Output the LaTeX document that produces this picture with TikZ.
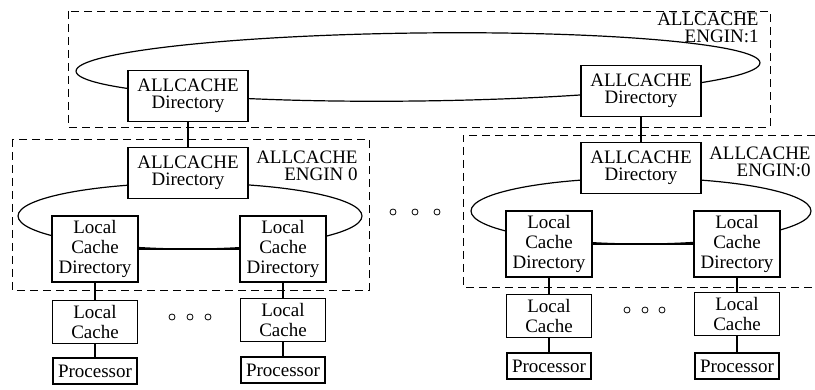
\documentclass[tikz,border=0pt]{standalone}
\usepackage{fontspec}
\setmainfont{Liberation Serif}
\usepackage{tikz}
\usetikzlibrary{positioning}
\tikzset{>=latex}
\tikzset{x=0.5pt, y=-0.5pt}
\tikzset{box/.style={draw, fill=white, inner sep=0pt, align=center,
    line width=0.6pt, font=\fontsize{9.5}{8.6}\selectfont},
  dirbox/.style={box, minimum width=60pt, minimum height=25.5pt},
  lcdbox/.style={box, minimum width=43pt, minimum height=33pt,
    font=\fontsize{9.5}{10.2}\selectfont},
  cachebox/.style={box, minimum width=42.5pt, minimum height=21.5pt,
    font=\fontsize{9.5}{9.8}\selectfont},
  procbox/.style={box, minimum width=42pt, minimum height=13pt},
  engine/.style={dash pattern=on 4pt off 2.5pt, thin},
  enginelabel/.style={anchor=north east, align=right, inner sep=0pt,
    font=\fontsize{9.5}{8.4}\selectfont},
  ring/.style={semithick}}

\begin{document}
\begin{tikzpicture}
  \useasboundingbox (0,0) rectangle (815,390);
  % engine frames
  \draw[engine] (68,11) rectangle (770,127);
  \draw[engine] (12,139) rectangle (369,290);
  \draw[engine] (815,135) -- (463,135) -- (463,287) -- (815,287);
  \node[enginelabel] (lblTop) at (759,13) {ALLCACHE\\ENGIN:1};
  \node[enginelabel] (lblLeft) at (358,151) {ALLCACHE\\ENGIN 0};
  \node[enginelabel] (lblRight) at (811,147) {ALLCACHE\\ENGIN:0};
  % rings
  \draw[ring, rotate around={0.7:(418,67)}] (418,67) ellipse [x radius=342, y radius=34];
  \draw[ring] (190,216) ellipse [x radius=172, y radius=33];
  \draw[ring] (641,211) ellipse [x radius=170, y radius=33];
  % top level
  \node[dirbox] (dirA) at (188,96) {ALLCACHE\\Directory};
  \node[dirbox] (dirB) at (641,91) {ALLCACHE\\Directory};
  % left engine
  \node[dirbox] (dirL) at (188,173) {ALLCACHE\\Directory};
  \node[lcdbox] (lcdL1) at (95,249) {Local\\Cache\\Directory};
  \node[lcdbox] (lcdL2) at (283,249) {Local\\Cache\\Directory};
  \node[cachebox] (lcL1) at (95,322) {Local\\Cache};
  \node[cachebox] (lcL2) at (283,320) {Local\\Cache};
  \node[procbox] (prL1) at (95,371) {Processor};
  \node[procbox] (prL2) at (283,370) {Processor};
  % right engine
  \node[dirbox] (dirR) at (641,168) {ALLCACHE\\Directory};
  \node[lcdbox] (lcdR1) at (549,244) {Local\\Cache\\Directory};
  \node[lcdbox] (lcdR2) at (737,244) {Local\\Cache\\Directory};
  \node[cachebox] (lcR1) at (549,316) {Local\\Cache};
  \node[cachebox] (lcR2) at (737,314) {Local\\Cache};
  \node[procbox] (prR1) at (549,366) {Processor};
  \node[procbox] (prR2) at (737,366) {Processor};
  % links
  \draw[semithick] (dirA) -- (dirL);
  \draw[semithick] (dirB) -- (dirR);
  \draw[semithick] (lcdL1) -- (lcdL2);
  \draw[semithick] (lcdR1) -- (lcdR2);
  \foreach \n in {L1, L2, R1, R2}
    \draw[semithick] (lcd\n) -- (lc\n) -- (pr\n);
  % ellipsis marks
  \foreach \x/\y in {172/317, 190/317, 208/317, 393/212, 415/212, 437/212,
                     627/310, 645/310, 662/310}
    \draw (\x,\y) circle (3);
\end{tikzpicture}
\end{document}
